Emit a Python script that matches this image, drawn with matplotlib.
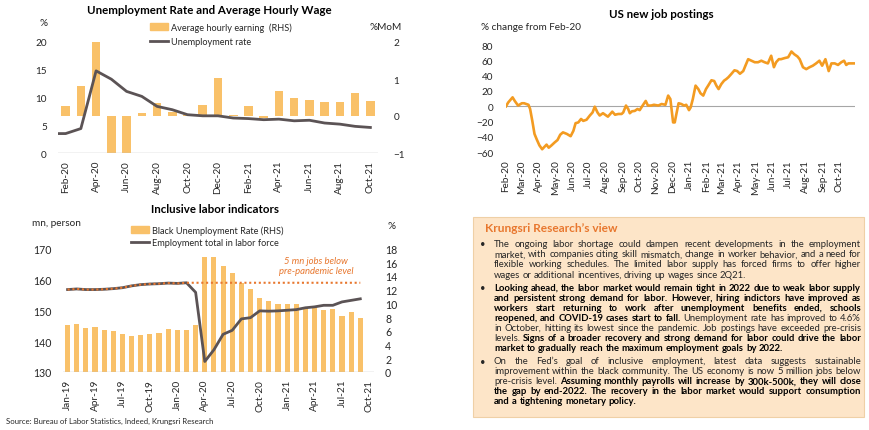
import matplotlib
matplotlib.use('Agg')
import matplotlib.pyplot as plt
import numpy as np
import pandas as pd
from matplotlib.patches import Patch, Rectangle
from matplotlib.lines import Line2D

plt.rcParams['font.family'] = ['Lato', 'DejaVu Sans']

# ---------------- DATA ----------------
# Top-left: Unemployment rate (%) and average hourly earnings (%MoM)
ahe_months = ['Feb-20', 'Mar-20', 'Apr-20', 'May-20', 'Jun-20', 'Jul-20', 'Aug-20', 'Sep-20',
              'Oct-20', 'Nov-20', 'Dec-20', 'Jan-21', 'Feb-21', 'Mar-21', 'Apr-21', 'May-21',
              'Jun-21', 'Jul-21', 'Aug-21', 'Sep-21', 'Oct-21']
ahe_mom = [0.28, 0.80, 2.0, -1.0, -1.0, 0.07, 0.35, 0.12, 0.03, 0.30, 1.02, 0.03, 0.27, -0.06,
           0.68, 0.48, 0.43, 0.37, 0.37, 0.62, 0.40]
ue_months = ['Jan-20'] + ahe_months
ue_rate = [3.5, 3.5, 4.4, 14.8, 13.3, 11.1, 10.2, 8.4, 7.8, 6.9, 6.7, 6.7, 6.3, 6.2, 6.0, 6.1,
           5.8, 5.9, 5.4, 5.2, 4.8, 4.6]

# Top-right: US new job postings, % change from Feb-20 (days since 1 Feb 2020)
post_days = [0, 4, 12, 16, 22, 29, 33, 41, 44, 48, 52, 56, 61, 66, 70, 74, 78, 83, 89, 94,
             99, 104, 111, 118, 123, 127, 132, 137, 141, 147, 153, 158, 162, 167, 171, 177, 182, 186, 194, 199,
             205, 211, 214, 219, 223, 226, 230, 235, 240, 244, 248, 255, 259, 265, 270, 278, 284, 291, 296, 300,
             305, 308, 311, 315, 320, 325, 329, 334, 337, 341, 346, 351, 355, 360, 365, 369, 375, 380, 384, 388,
             393, 398, 402, 406, 411, 417, 422, 427, 433, 437, 442, 448, 454, 460, 466, 472, 478, 484, 489, 493,
             498, 502, 509, 515, 521, 526, 532, 536, 542, 548, 554, 560, 566, 572, 577, 583, 589, 594, 600, 606,
             612, 617, 621, 625, 630, 636]
post_vals = [0, 5, 11.7, 7, 1, 4, 4, 2, -3.5, -19, -36, -43, -51, -56, -53, -50, -54, -51, -47, -44,
             -37, -34, -36, -39, -32, -22, -21, -16.5, -19, -17.5, -12, -8, -0.5, -8, -12, -9, -11.5, -13.5, -7, -11,
             -10, -10, -8, 1, -3.5, -9, -6.5, -6, -3.5, -5, -0.5, 7, 1, 1, 2, 1, 3, 2, 14, 9.5,
             -21, -21, -10, 4, 3, 1, 2, -5, -1.5, 9.5, 27, 22.5, 17, 14, 22.5, 27, 34, 33, 27, 22.5,
             29, 33.5, 35.5, 38, 42, 47, 46, 42.5, 46, 53, 61.5, 59.5, 57.5, 57.5, 59.5, 57.5, 56, 66, 51, 57.5,
             61.5, 61.5, 63, 64, 71.5, 68, 65, 61.5, 51, 48.5, 51, 53, 56, 59.5, 53, 61.5, 46, 56, 56, 54,
             57.5, 59.5, 54, 56, 56, 56]
post_start = '2020-02-01'
post_tick_months = pd.date_range('2020-02-01', '2021-10-01', freq='MS')

# Bottom-left: Inclusive labor indicators (Jan-19 .. Sep-21; axis runs to Oct-21)
inc_months = pd.date_range('2019-01-01', '2021-10-01', freq='MS')
black_ue = [6.9, 7.0, 6.4, 6.6, 6.15, 6.0, 5.55, 5.2, 5.4, 5.55, 5.7, 6.25, 6.15, 6.05, 6.9,
            16.8, 16.8, 15.4, 14.4, 13.0, 12.05, 10.8, 10.35, 9.95, 9.95, 9.9, 9.5, 9.6, 9.0,
            9.2, 8.2, 8.8, 7.9]
employment = [156.7, 156.9, 156.7, 156.7, 156.8, 157.0, 157.3, 157.9, 158.3, 158.5, 158.6, 158.8,
              158.7, 158.9, 155.8, 133.4, 137.2, 142.2, 143.5, 147.2, 147.6, 149.8, 149.7, 149.8,
              150.0, 150.2, 150.8, 151.1, 151.6, 151.6, 152.7, 153.2, 153.7]
pre_pandemic = employment[:14] + [158.9] * 19

# ---------------- STYLE ----------------
BAR = '#F9C169'
DARK = '#5B5355'
ORANGE_LINE = '#F39B21'
ORANGE_TXT = '#E8772E'
GRAY = '#BFBFBF'
TXT = '#262626'

W, H = 870, 431
fig = plt.figure(figsize=(W / 100, H / 100), dpi=100)


def rect(x0, y0, x1, y1):
    return [x0 / W, 1 - y1 / H, (x1 - x0) / W, (y1 - y0) / H]


def fx(x):
    return x / W


def fy(y):
    return 1 - y / H


def clean(ax):
    for s in ax.spines.values():
        s.set_visible(False)
    ax.tick_params(length=0, labelsize=7.2, colors=TXT)


# ---------------- TOP-LEFT ----------------
ax1 = fig.add_axes(rect(58, 43, 378, 154))
ax1r = ax1.twinx()
x21 = np.arange(len(ahe_months))
ax1r.bar(x21, ahe_mom, width=0.56, color=BAR, zorder=2)
ax1.plot(np.arange(-1, len(ahe_months)), ue_rate, color=DARK, lw=2.0, zorder=3)
ax1.axhline(0, color=GRAY, lw=1.0, zorder=1)
ax1.set_zorder(ax1r.get_zorder() + 1)
ax1.patch.set_visible(False)
ax1.set_xlim(-0.5, 20.5)
ax1.set_ylim(0, 20)
ax1.set_yticks([0, 5, 10, 15, 20])
ax1r.set_ylim(-1, 2)
ax1r.set_yticks([-1, 0, 1, 2])
ax1.set_xticks(x21[::2])
ax1.set_xticklabels(ahe_months[::2], rotation=90)
clean(ax1)
clean(ax1r)
ax1.tick_params(axis='y', pad=8)
ax1.tick_params(axis='x', pad=5)
ax1r.tick_params(axis='y', pad=11)
fig.text(fx(44), fy(23), '%', fontsize=7.2, ha='center', va='center', color=TXT)
fig.text(fx(386), fy(27), '%MoM', fontsize=7.2, ha='center', va='center', color=TXT)
fig.text(fx(209), fy(10), 'Unemployment Rate and Average Hourly Wage', fontsize=8.3,
         fontweight='bold', ha='center', va='center', color='black')
fig.legend(handles=[Patch(color=BAR, label='Average hourly earning  (RHS)'),
                    Line2D([], [], color=DARK, lw=2.0, label='Unemployment rate')],
           loc='upper left', bbox_to_anchor=(fx(150), fy(23)), frameon=False, fontsize=6.6,
           handlelength=2.0, handleheight=0.7, handletextpad=0.25, labelspacing=0.6,
           borderpad=0, borderaxespad=0, labelcolor=TXT)

# ---------------- TOP-RIGHT ----------------
ax2 = fig.add_axes(rect(506, 46, 855, 153.3))
ax2.axhline(0, color='#A6A6A6', lw=0.8, zorder=1)
ax2.plot(post_days, post_vals, color=ORANGE_LINE, lw=1.9, zorder=2, solid_joinstyle='round')
ax2.set_xlim(0, 637)
ax2.set_ylim(-60, 80)
ax2.set_yticks(np.arange(-60, 81, 20))
tick_days = (post_tick_months - pd.Timestamp(post_start)).days
ax2.set_xticks(tick_days)
ax2.set_xticklabels(post_tick_months.strftime('%b-%y'), rotation=90)
clean(ax2)
ax2.tick_params(axis='y', pad=9)
ax2.tick_params(axis='x', pad=5)
fig.text(fx(481), fy(27), '% change from Feb-20', fontsize=7.2, ha='left', va='center', color=TXT)
fig.text(fx(661), fy(14), 'US new job postings', fontsize=8.3, fontweight='bold',
         ha='center', va='center', color='black')

# ---------------- BOTTOM-LEFT ----------------
ax3 = fig.add_axes(rect(63, 249.5, 374, 373))
ax3r = ax3.twinx()
xi = np.arange(len(black_ue))
ax3r.bar(xi, black_ue, width=0.56, color=BAR, zorder=2)
ax3.plot(xi, employment, color=DARK, lw=2.0, zorder=3)
ax3.plot(xi, pre_pandemic, color=ORANGE_TXT, lw=1.5, ls=(0, (1, 1.3)), zorder=4)
ax3.axhline(130, color=GRAY, lw=1.0, zorder=1)
ax3.set_zorder(ax3r.get_zorder() + 1)
ax3.patch.set_visible(False)
ax3.set_xlim(-0.5, len(inc_months) - 0.5)
ax3.set_ylim(130, 170)
ax3.set_yticks([130, 140, 150, 160, 170])
ax3r.set_ylim(0, 18)
ax3r.set_yticks(np.arange(0, 19, 2))
ax3.set_xticks(np.arange(0, len(inc_months), 3))
ax3.set_xticklabels(inc_months[::3].strftime('%b-%y'), rotation=90)
clean(ax3)
clean(ax3r)
ax3.tick_params(axis='y', labelsize=7.6, pad=8)
ax3r.tick_params(axis='y', labelsize=7.6, pad=8)
ax3.tick_params(axis='x', pad=5)
fig.text(fx(215), fy(210), 'Inclusive labor indicators', fontsize=8.3, fontweight='bold',
         ha='center', va='center', color='black')
fig.text(fx(32), fy(224), 'mn, person', fontsize=7.2, ha='left', va='center', color=TXT)
fig.text(fx(392), fy(227), '%', fontsize=7.2, ha='center', va='center', color=TXT)
fig.legend(handles=[Patch(color=BAR, label='Black Unemployment Rate (RHS)'),
                    Line2D([], [], color=DARK, lw=2.0, label='Employment total in labor force')],
           loc='upper left', bbox_to_anchor=(fx(131), fy(226)), frameon=False, fontsize=6.6,
           handlelength=2.0, handleheight=0.7, handletextpad=0.25, labelspacing=0.35,
           borderpad=0, borderaxespad=0, labelcolor=TXT)
fig.text(fx(316), fy(261), '5 mn jobs below', fontsize=6.8, style='italic', color=ORANGE_TXT,
         ha='center', va='center')
fig.text(fx(316), fy(271), 'pre-pandemic level', fontsize=6.8, style='italic', color=ORANGE_TXT,
         ha='center', va='center')
fig.text(fx(6), fy(421), 'Source: Bureau of Labor Statistics, Indeed, Krungsri Research',
         fontsize=5.6, ha='left', va='center', color=TXT)

# ---------------- TEXT BOX ----------------
fig.patches.append(Rectangle((fx(473), fy(418)), (864 - 473) / W, (418 - 218) / H,
                             transform=fig.transFigure, facecolor='#FDE5C8',
                             edgecolor='#EFD0A6', lw=0.8, zorder=0))
fig.text(fx(485), fy(229), 'Krungsri Research\u2019s view', fontsize=8.6, fontweight='bold',
         color=ORANGE_TXT, ha='left', va='center')

paragraphs = [
    [[("The ongoing labor shortage could dampen recent developments in the employment", False)],
     [("market, with companies citing skill mismatch, change in worker behavior, and a need for", False)],
     [("flexible working schedules. The limited labor supply has forced firms to offer higher", False)],
     [("wages or additional incentives, driving up wages since 2Q21.", False)]],
    [[("Looking ahead, the labor market would remain tight in 2022 due to weak labor supply", True)],
     [("and persistent strong demand for labor. However, hiring indictors have improved as", True)],
     [("workers start returning to work after unemployment benefits ended, schools", True)],
     [("reopened, and COVID-19 cases start to fall.", True), ("Unemployment rate has improved to 4.6%", False)],
     [("in October, hitting its lowest since the pandemic. Job postings have exceeded pre-crisis", False)],
     [("levels.", False), ("Signs of a broader recovery and strong demand for labor could drive the labor", True)],
     [("market to gradually reach the maximum employment goals by 2022.", True)]],
    [[("On the Fed\u2019s goal of inclusive employment, latest data suggests sustainable", False)],
     [("improvement within the black community. The US economy is now 5 million jobs below", False)],
     [("pre-crisis level.", False), ("Assuming monthly payrolls will increase by 300k-500k, they will close", True)],
     [("the gap by end-2022. The recovery in the labor market would support consumption", True)],
     [("and a tightening monetary policy.", True)]],
]

renderer = fig.canvas.get_renderer()


def measure(s, bold, fs):
    t = fig.text(0, 0, s, fontsize=fs, fontweight='bold' if bold else 'normal')
    w = t.get_window_extent(renderer).width
    t.remove()
    return w


X0, X1 = 494, 861
fs = 7.4
while True:
    sp = measure('a a', False, fs) - measure('aa', False, fs)
    widest = 0
    for para in paragraphs:
        for line in para[:-1]:
            words = [(w, b) for seg, b in line for w in seg.split()]
            tot = sum(measure(w, b, fs) for w, b in words) + sp * (len(words) - 1)
            widest = max(widest, tot)
    if widest <= X1 - X0 or fs < 5:
        break
    fs -= 0.1

y = 244.0
LS = 10.0
for para in paragraphs:
    fig.text(fx(483), fy(y), '\u2022', fontsize=fs, ha='center', va='center_baseline', color=TXT)
    for li, line in enumerate(para):
        words = [(w, b) for seg, b in line for w in seg.split()]
        widths = [measure(w, b, fs) for w, b in words]
        if li < len(para) - 1 and len(words) > 1:
            gap = (X1 - X0 - sum(widths)) / (len(words) - 1)
        else:
            gap = sp
        xx = X0
        for (w, b), wd in zip(words, widths):
            fig.text(fx(xx), fy(y), w, fontsize=fs, fontweight='bold' if b else 'normal',
                     ha='left', va='center_baseline', color='black' if b else TXT)
            xx += wd + gap
        y += LS
    y += 3.5

fig.savefig('out.png', dpi=100)
